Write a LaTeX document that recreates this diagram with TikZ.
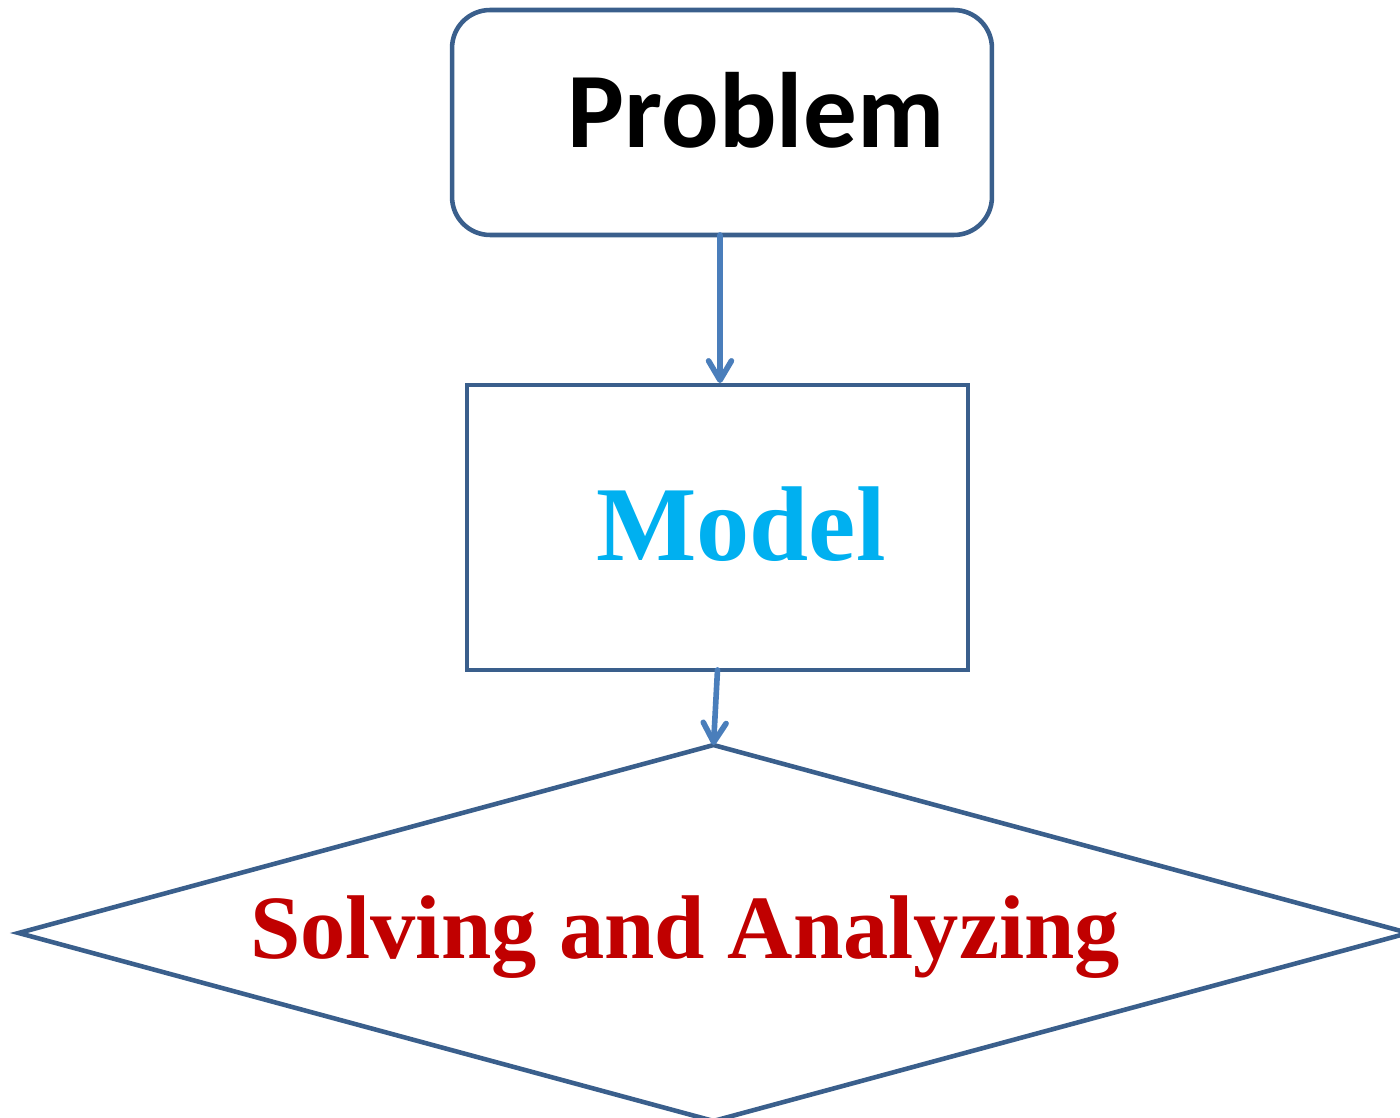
\documentclass[tikz,border=0pt]{standalone}
\usepackage{fontspec}
\usetikzlibrary{arrows.meta,shapes.geometric}
\newfontfamily\calib{Carlito}
\newfontfamily\tnr{Liberation Serif}
\definecolor{bordc}{HTML}{3A5F8C}
\definecolor{arrc}{HTML}{4A7EBB}
\definecolor{modc}{HTML}{00B0F0}
\definecolor{solc}{HTML}{C00000}
\begin{document}
\begin{tikzpicture}[x=0.02cm,y=-0.02cm,
  shapebox/.style={draw=bordc,line width=2.6pt,inner sep=0pt,outer sep=0pt},
  conn/.style={draw=arrc,line width=3.2pt,line cap=round,
    -{Straight Barb[round,length=11pt,width=13pt]}},
  lbl/.style={inner sep=0pt,anchor=base}]
\useasboundingbox (0,0) rectangle (1400,1118);
\node[shapebox,rectangle,rounded corners=0.76cm,minimum width=10.8cm,minimum height=4.5cm] (problem) at (722,122.5) {};
\node[shapebox,rectangle,minimum width=10.02cm,minimum height=5.7cm] (model) at (717.5,527.5) {};
\node[shapebox,diamond,minimum width=27.8cm,minimum height=7.52cm] (solve) at (713.5,933) {};
\node[lbl] (tproblem) at (756,148) {\calib\bfseries\fontsize{61}{68}\selectfont Problem};
\node[lbl,text=modc] (tmodel) at (741,560) {\tnr\bfseries\fontsize{60.5}{66}\selectfont Model};
\node[lbl,text=solc] (tsolve) at (685,958) {\tnr\bfseries\fontsize{51.5}{58}\selectfont Solving and Analyzing};
\draw[conn] ([xshift=-0.04cm]problem.south) -- ([xshift=0.05cm,yshift=0.04cm]model.north);
\draw[conn] (model.south) -- (solve.north);
\end{tikzpicture}
\end{document}
